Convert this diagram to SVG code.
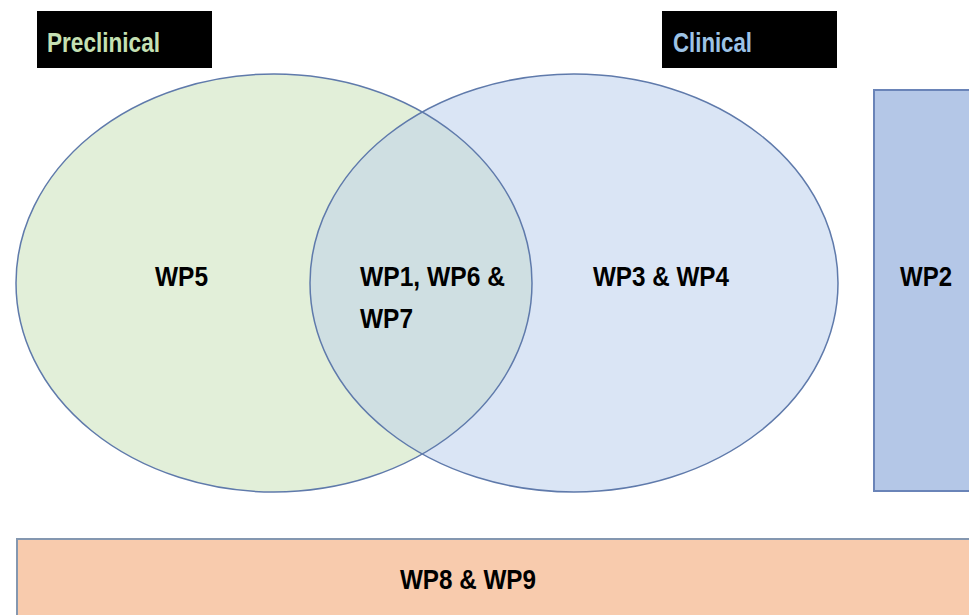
<svg xmlns="http://www.w3.org/2000/svg" width="969" height="615" viewBox="0 0 969 615">
<style>
.lbl{font-family:"Liberation Sans",Arial,sans-serif;font-weight:bold;font-size:28px;fill:#000}
.tag{font-family:"Liberation Sans",Arial,sans-serif;font-weight:bold;font-size:28px}
.edge{stroke:#5f7aab;stroke-width:1.5}
</style>
<defs>
<clipPath id="clipLeft"><ellipse cx="274" cy="283" rx="258" ry="209"/></clipPath>
</defs>
<rect width="969" height="615" fill="#fff"/>
<g id="preclinical-tag">
<rect x="37" y="11" width="175" height="57" fill="#000"/>
<text class="tag" x="47" y="52" fill="#c5e0b3" textLength="113" lengthAdjust="spacingAndGlyphs">Preclinical</text>
</g>
<g id="clinical-tag">
<rect x="662" y="11" width="175" height="57" fill="#000"/>
<text class="tag" x="673" y="52" fill="#9dc3e6" textLength="79" lengthAdjust="spacingAndGlyphs">Clinical</text>
</g>
<g id="preclinical">
<ellipse cx="274" cy="283" rx="258" ry="209" fill="#e2efd9"/>
</g>
<g id="clinical">
<ellipse cx="574" cy="283" rx="264" ry="209" fill="#dae5f5"/>
</g>
<g id="overlap">
<ellipse cx="574" cy="283" rx="264" ry="209" fill="#cfdfe2" clip-path="url(#clipLeft)"/>
</g>
<g id="outlines" fill="none">
<ellipse class="edge" cx="274" cy="283" rx="258" ry="209"/>
<ellipse class="edge" cx="574" cy="283" rx="264" ry="209"/>
</g>
<g id="labels">
<text class="lbl" x="155" y="286" textLength="53" lengthAdjust="spacingAndGlyphs">WP5</text>
<text class="lbl" x="360" y="286" textLength="145" lengthAdjust="spacingAndGlyphs">WP1, WP6 &amp;</text>
<text class="lbl" x="360" y="328" textLength="53" lengthAdjust="spacingAndGlyphs">WP7</text>
<text class="lbl" x="593" y="286" textLength="136" lengthAdjust="spacingAndGlyphs">WP3 &amp; WP4</text>
</g>
<g id="wp2">
<rect x="874" y="90" width="110" height="401" fill="#b4c7e7" stroke="#6a84b8" stroke-width="2"/>
<text class="lbl" x="900" y="286" textLength="52" lengthAdjust="spacingAndGlyphs">WP2</text>
</g>
<g id="wp8-wp9">
<rect x="17" y="539" width="970" height="90" fill="#f8cbad" stroke="#8497b0" stroke-width="2"/>
<text class="lbl" x="400" y="589" textLength="136" lengthAdjust="spacingAndGlyphs">WP8 &amp; WP9</text>
</g>
</svg>
